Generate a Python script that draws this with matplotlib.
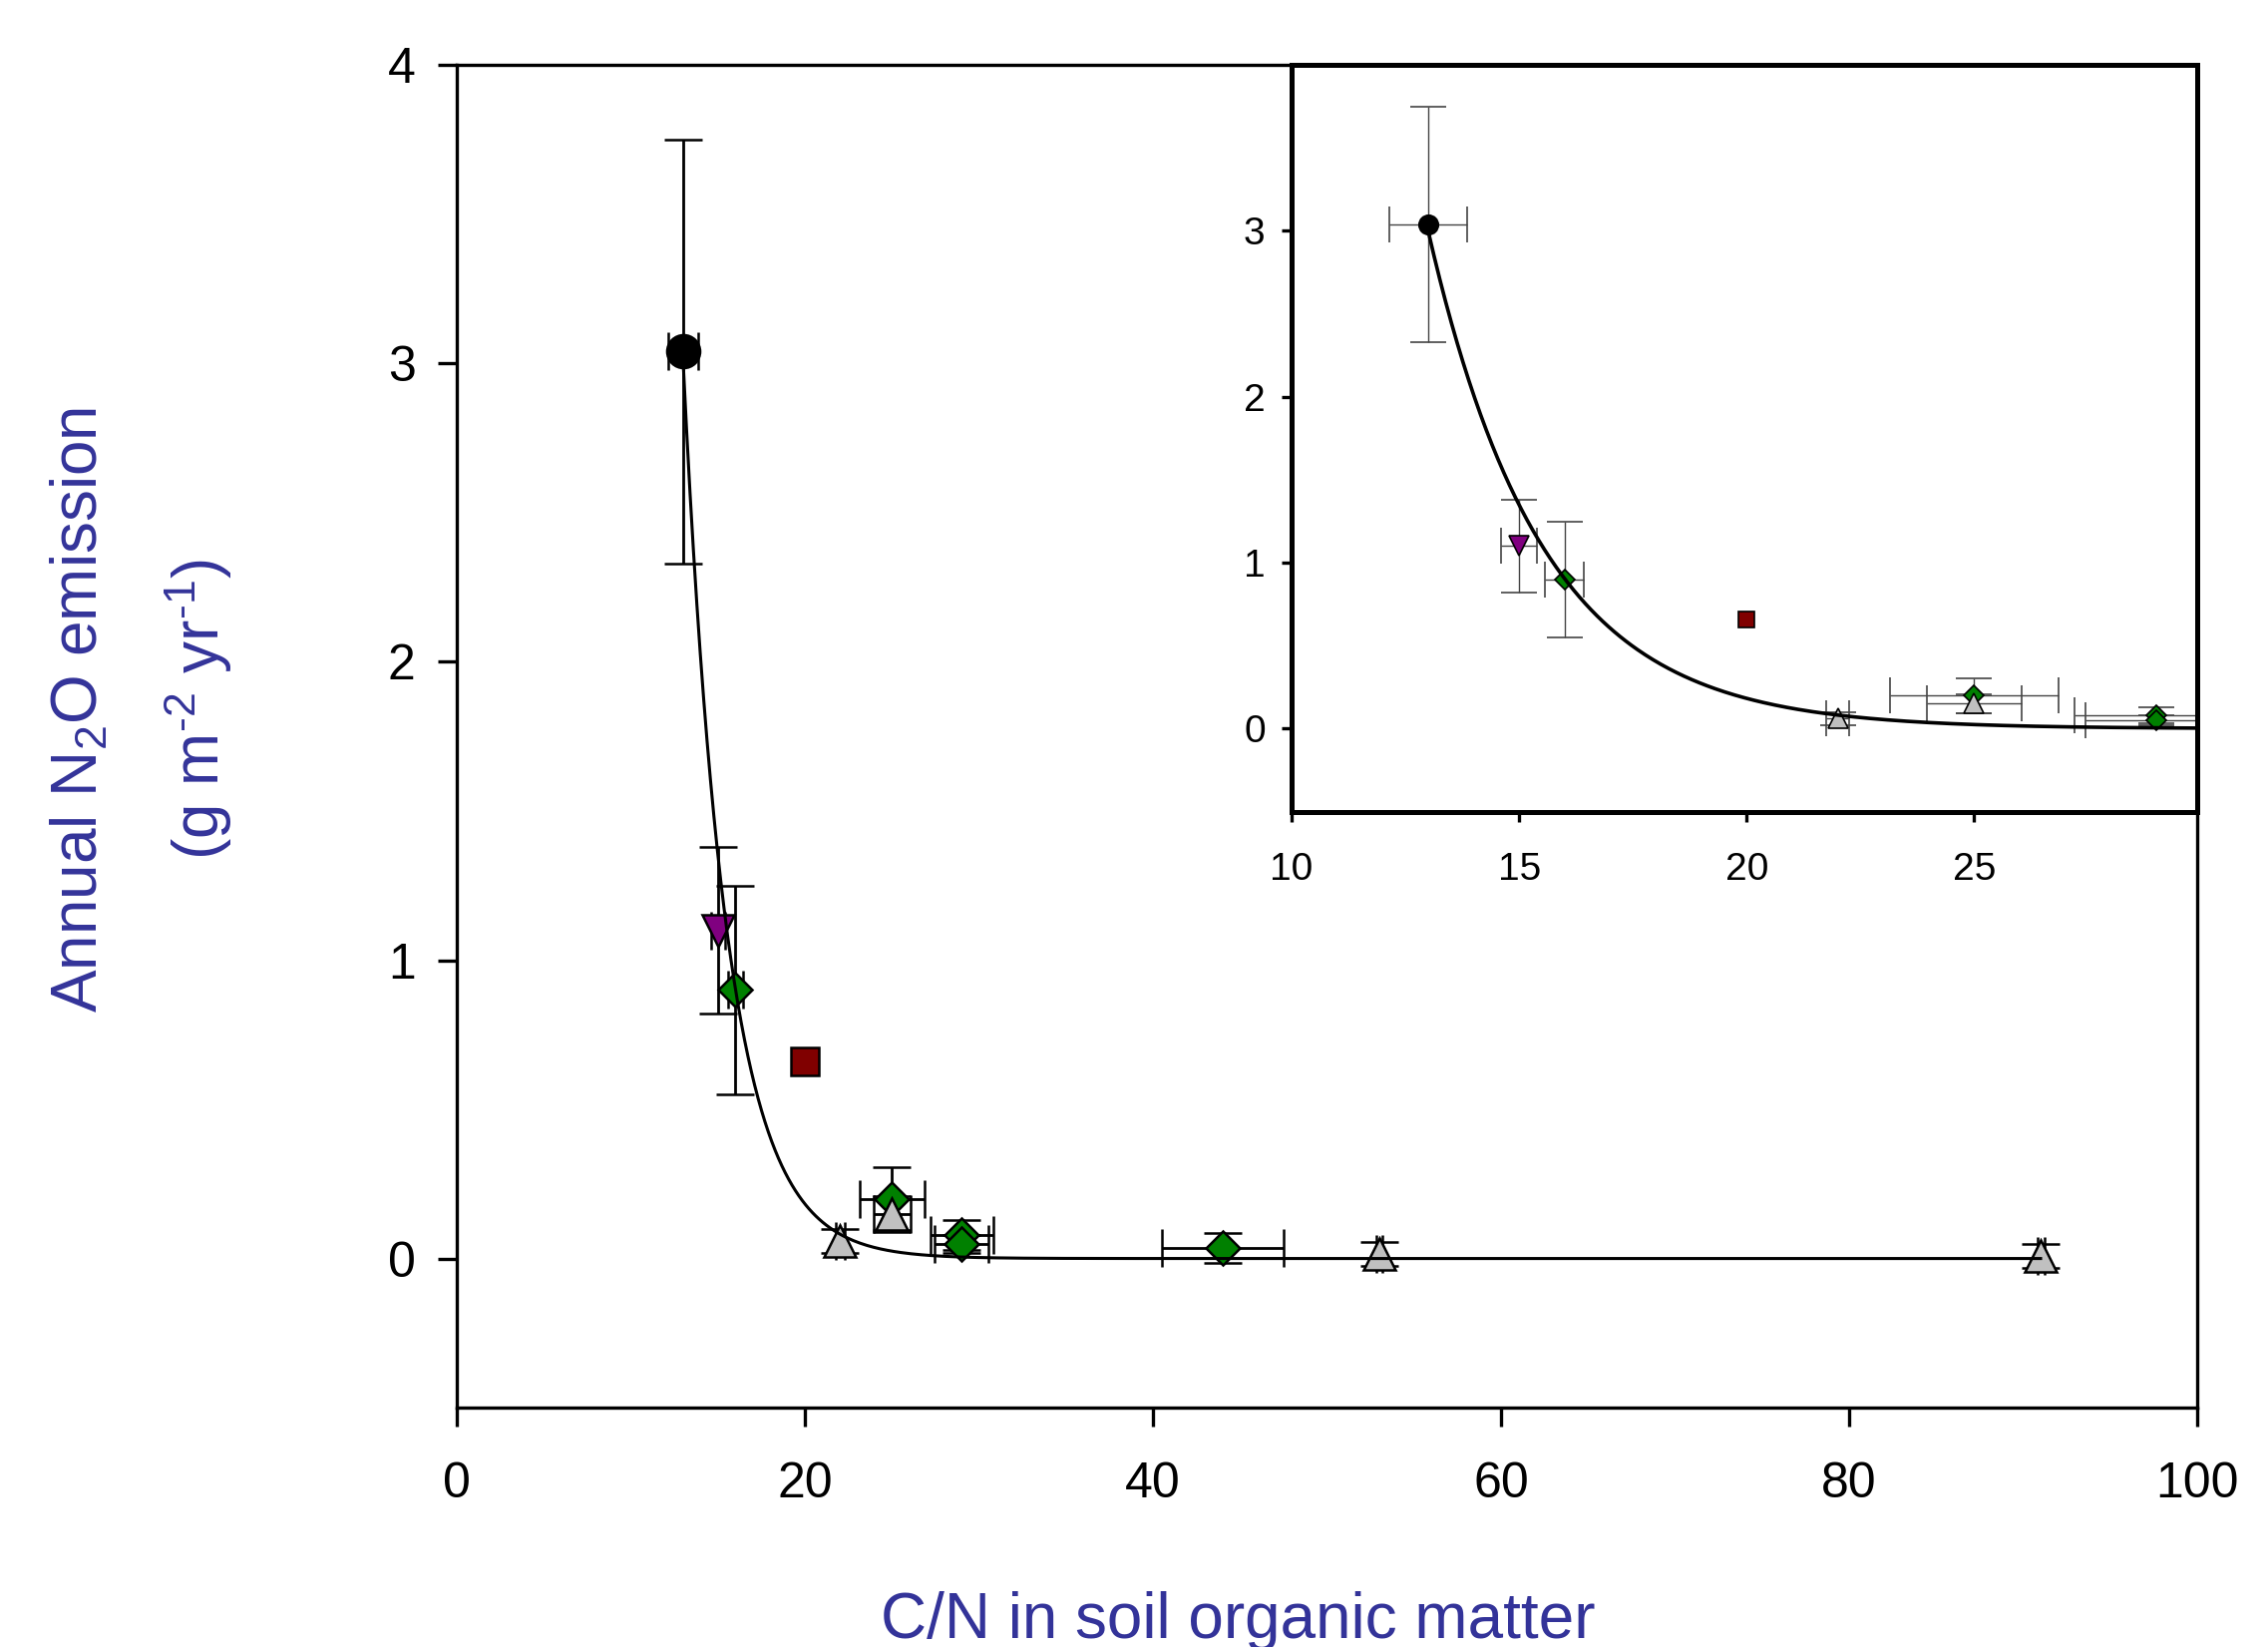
import numpy as np
import matplotlib.pyplot as plt

plt.rcParams['font.family'] = ['Liberation Sans', 'DejaVu Sans']
plt.rcParams['mathtext.fontset'] = 'custom'
plt.rcParams['mathtext.rm'] = 'Liberation Sans'
plt.rcParams['mathtext.it'] = 'Liberation Sans:italic'

# black circle
circ_x = [13]
circ_y = [3.04]
circ_xerr = [0.85]
circ_yerr = [0.71]

# purple down triangle
tdn_x = [15]
tdn_y = [1.1]
tdn_xerr = [0.4]
tdn_yerr = [0.28]

# green diamonds
dia_x = [16, 25, 29, 29, 44]
dia_y = [0.9, 0.2, 0.08, 0.05, 0.035]
dia_xerr = [0.43, 1.86, 1.8, 1.55, 3.5]
dia_yerr = [0.35, 0.105, 0.05, 0.03, 0.05]

# dark red square (no error bars)
sq_x = [20]
sq_y = [0.66]

# grey up triangles
tup_x = [22, 25, 53, 91]
tup_y = [0.06, 0.15, 0.015, 0.01]
tup_xerr = [0.26, 1.05, 0.17, 0.2]
tup_yerr = [0.04, 0.06, 0.04, 0.04]

# exponential fit  y = a * exp(-k (x - x0))
fit_a = 3.0
fit_k = 0.4
fit_x0 = 13

label_color = '#333399'

fig = plt.figure(figsize=(11.37, 8.255), dpi=200)
ax = fig.add_axes([0.2015, 0.1453, 0.7673, 0.8151])
ins = fig.add_axes([0.5695, 0.5072, 0.3993, 0.4534])


def draw(a, sizes, ecolor, elw, cap, mew, fit_lw, x_end):
    a.errorbar(circ_x, circ_y, xerr=circ_xerr, yerr=circ_yerr, fmt='o',
               ms=sizes['o'], mfc='black', mec='black', mew=mew,
               ecolor=ecolor, elinewidth=elw, capsize=cap, capthick=elw)
    a.errorbar(tdn_x, tdn_y, xerr=tdn_xerr, yerr=tdn_yerr, fmt='v',
               ms=sizes['v'], mfc='#800080', mec='black', mew=mew,
               ecolor=ecolor, elinewidth=elw, capsize=cap, capthick=elw)
    a.errorbar(dia_x, dia_y, xerr=dia_xerr, yerr=dia_yerr, fmt='D',
               ms=sizes['D'], mfc='#008000', mec='black', mew=mew,
               ecolor=ecolor, elinewidth=elw, capsize=cap, capthick=elw)
    a.plot(sq_x, sq_y, 's', ms=sizes['s'], mfc='#800000', mec='black', mew=mew)
    a.errorbar(tup_x, tup_y, xerr=tup_xerr, yerr=tup_yerr, fmt='^',
               ms=sizes['^'], mfc='#C0C0C0', mec='black', mew=mew,
               ecolor=ecolor, elinewidth=elw, capsize=cap, capthick=elw)
    xf = np.linspace(fit_x0, x_end, 400)
    a.plot(xf, fit_a * np.exp(-fit_k * (xf - fit_x0)), color='black',
           lw=fit_lw, zorder=5)


# main plot
draw(ax, {'o': 11.9, 'v': 11.5, 'D': 8.6, 's': 10.4, '^': 11.5},
     'black', 1.0, 7, 0.9, 1.1, 91)
ax.set_xlim(0, 100)
ax.set_ylim(-0.5, 4)
ax.set_xticks([0, 20, 40, 60, 80, 100])
ax.set_yticks([0, 1, 2, 3, 4])
ax.tick_params(direction='out', length=7, width=1.2, labelsize=18)
ax.tick_params(axis='x', pad=12.5)
ax.tick_params(axis='y', pad=8)
for s in ax.spines.values():
    s.set_linewidth(1.2)

fig.text(0.546, 0.0155, 'C/N in soil organic matter', color=label_color,
         fontsize=23, ha='center', va='center')
fig.text(0.0352, 0.5693, 'Annual N$_{\\mathregular{2}}$O emission',
         color=label_color, fontsize=23, rotation=90, ha='center', va='center')
fig.text(0.0875, 0.5693,
         '(g m$^{\\mathregular{\u20102}}$ yr$^{\\mathregular{\u20101}}$)',
         color=label_color, fontsize=23, rotation=90, ha='center', va='center')

# inset
draw(ins, {'o': 7.0, 'v': 7.2, 'D': 5.2, 's': 5.8, '^': 7.2},
     '#444444', 0.5, 6.5, 0.6, 1.3, 30)
ins.set_xlim(10, 29.9)
ins.set_ylim(-0.5, 4)
ins.set_xticks([10, 15, 20, 25])
ins.set_yticks([0, 1, 2, 3])
ins.tick_params(direction='out', length=3.5, width=1.2, labelsize=14)
ins.tick_params(axis='x', pad=11)
ins.tick_params(axis='y', pad=6)
for s in ins.spines.values():
    s.set_linewidth(1.8)

fig.savefig('out.png', dpi=200)
